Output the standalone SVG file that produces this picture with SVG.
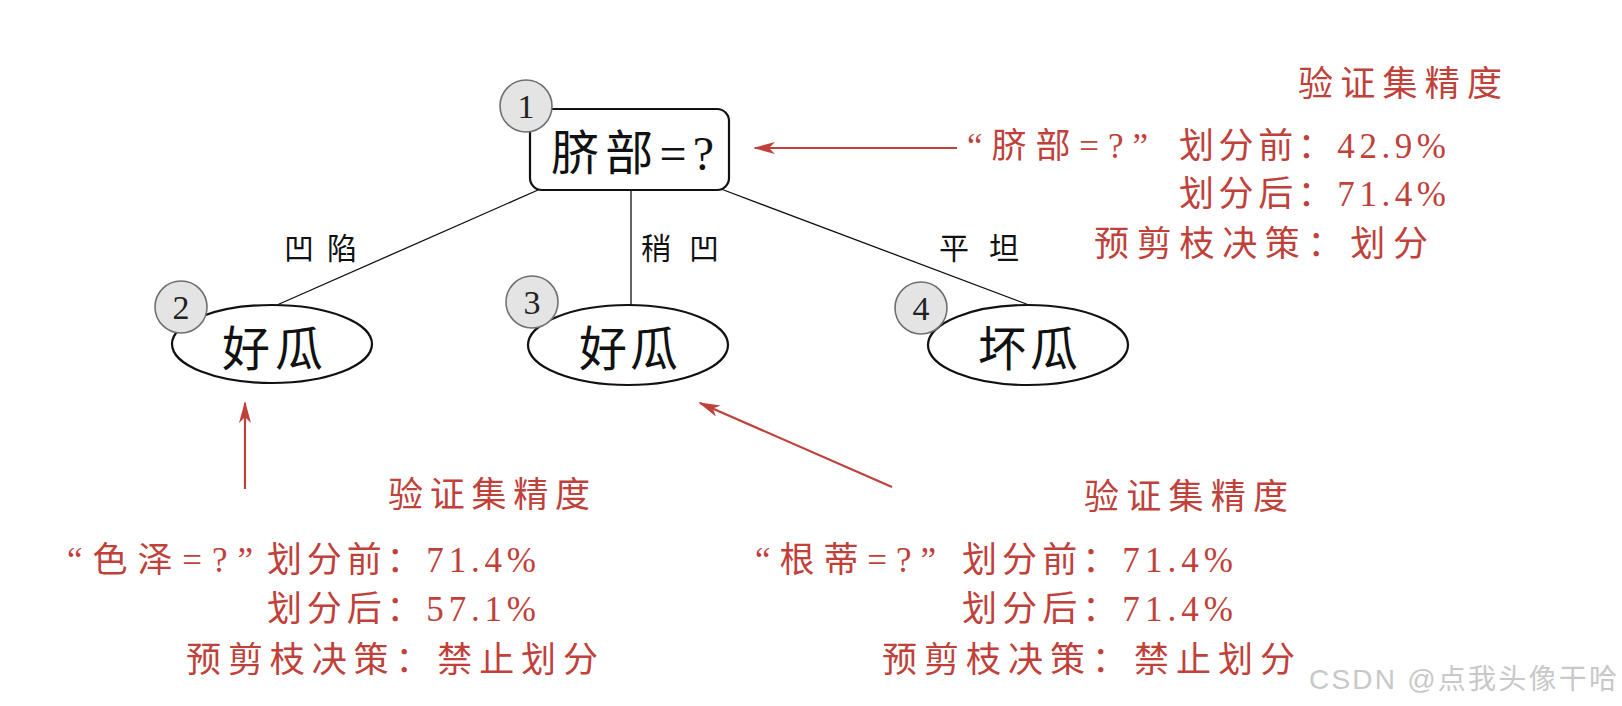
<svg xmlns="http://www.w3.org/2000/svg" width="1622" height="706" viewBox="0 0 1622 706">
<style>
.bg{fill:#ffffff}
.node{fill:#ffffff;stroke:#111;stroke-width:2.2}
.num{fill:#e4e4e4;stroke:#707070;stroke-width:1.6}
.numt{font-family:"Liberation Serif",serif;font-size:34px;fill:#222;text-anchor:middle}
.lbl{font-family:"Liberation Serif","Noto Sans CJK SC",serif;font-size:48px;fill:#111}
.edge{stroke:#111;stroke-width:1.3;fill:none}
.elbl{font-family:"Noto Sans CJK SC",sans-serif;font-size:30px;fill:#111}
.red{font-family:"Liberation Serif","Noto Sans CJK SC",serif;font-size:35px;fill:#c0403a}
.rarrow{stroke:#c0403a;stroke-width:2.2;fill:none;marker-end:url(#ah)}
.wm{font-family:"Liberation Sans","Noto Sans CJK SC",sans-serif;font-size:28px;fill:#c8c8c8}
</style>
<defs>
<marker id="ah" viewBox="0 0 22 12" refX="20" refY="6" markerWidth="22" markerHeight="12" markerUnits="userSpaceOnUse" orient="auto">
<path d="M0,0 L22,6 L0,12 L6,6 z" fill="#c0403a"/>
</marker>
</defs>
<rect class="bg" x="0" y="0" width="1622" height="706"/>

<g id="connectors">
<line class="edge" x1="538" y1="190" x2="277" y2="305"/>
<line class="edge" x1="631" y1="191" x2="631" y2="305"/>
<line class="edge" x1="721" y1="189" x2="1029" y2="305"/>
<text class="elbl" x="284" y="259" textLength="73" lengthAdjust="spacing">凹陷</text>
<text class="elbl" x="641" y="259" textLength="78" lengthAdjust="spacing">稍凹</text>
<text class="elbl" x="939" y="259" textLength="80" lengthAdjust="spacing">平坦</text>
<line class="rarrow" x1="957" y1="148" x2="755" y2="148"/>
<line class="rarrow" x1="245" y1="489" x2="245" y2="403"/>
<line class="rarrow" x1="892" y1="487" x2="700" y2="403"/>
</g>

<g id="node1">
<rect class="node" x="530" y="109" width="199" height="81" rx="12" ry="12" stroke-width="2.6"/>
<circle class="num" cx="526" cy="106" r="26"/>
<text class="numt" x="526" y="118">1</text>
<text class="lbl" x="551" y="170" textLength="163" lengthAdjust="spacing">脐部=?</text>
</g>

<g id="node2">
<ellipse class="node" cx="272" cy="344" rx="100" ry="39"/>
<circle class="num" cx="181" cy="307" r="26"/>
<text class="numt" x="181" y="319">2</text>
<text class="lbl" x="222" y="366" textLength="101" lengthAdjust="spacing">好瓜</text>
</g>

<g id="node3">
<ellipse class="node" cx="628" cy="345" rx="100" ry="40"/>
<circle class="num" cx="532" cy="302" r="26"/>
<text class="numt" x="532" y="314">3</text>
<text class="lbl" x="579" y="366" textLength="99" lengthAdjust="spacing">好瓜</text>
</g>

<g id="node4">
<ellipse class="node" cx="1028" cy="345" rx="100" ry="40"/>
<circle class="num" cx="921" cy="308" r="26"/>
<text class="numt" x="921" y="320">4</text>
<text class="lbl" x="978" y="366" textLength="100" lengthAdjust="spacing">坏瓜</text>
</g>

<g id="note-root">
<text class="red" x="1298" y="96" textLength="204" lengthAdjust="spacing">验证集精度</text>
<text class="red" x="967" y="158" textLength="181" lengthAdjust="spacing">“脐部=?”</text>
<text class="red" x="1179" y="158" textLength="267" lengthAdjust="spacing">划分前：42.9%</text>
<text class="red" x="1179" y="206" textLength="267" lengthAdjust="spacing">划分后：71.4%</text>
<text class="red" x="1094" y="256" textLength="334" lengthAdjust="spacing">预剪枝决策：划分</text>
</g>

<g id="note-left">
<text class="red" x="388" y="507" textLength="202" lengthAdjust="spacing">验证集精度</text>
<text class="red" x="67" y="572" textLength="186" lengthAdjust="spacing">“色泽=?”</text>
<text class="red" x="267" y="572" textLength="269" lengthAdjust="spacing">划分前：71.4%</text>
<text class="red" x="267" y="621" textLength="269" lengthAdjust="spacing">划分后：57.1%</text>
<text class="red" x="186" y="672" textLength="412" lengthAdjust="spacing">预剪枝决策：禁止划分</text>
</g>

<g id="note-right">
<text class="red" x="1084" y="509" textLength="204" lengthAdjust="spacing">验证集精度</text>
<text class="red" x="755" y="572" textLength="181" lengthAdjust="spacing">“根蒂=?”</text>
<text class="red" x="962" y="572" textLength="271" lengthAdjust="spacing">划分前：71.4%</text>
<text class="red" x="962" y="621" textLength="271" lengthAdjust="spacing">划分后：71.4%</text>
<text class="red" x="882" y="672" textLength="413" lengthAdjust="spacing">预剪枝决策：禁止划分</text>
</g>

<text class="wm" x="1309" y="689" textLength="308" lengthAdjust="spacing">CSDN @点我头像干哈</text>
</svg>
